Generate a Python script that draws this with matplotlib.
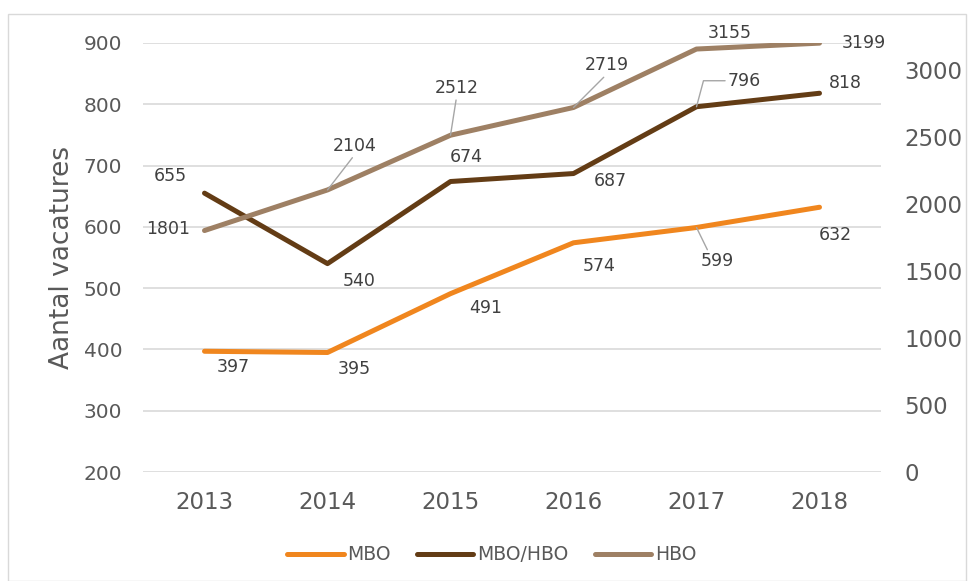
import matplotlib
matplotlib.use("Agg")
import matplotlib.pyplot as plt

years = ["2013", "2014", "2015", "2016", "2017", "2018"]
mbo = [397, 395, 491, 574, 599, 632]
mbo_hbo = [655, 540, 674, 687, 796, 818]
hbo = [1801, 2104, 2512, 2719, 3155, 3199]

# label offsets in pixels (dx, dy) and leader line style (None = no line)
mbo_off = [(29, -16, None), (27, -17, None), (35, -14, None), (26, -23, None), (21, -34, "arc3"), (16, -28, None)]
mbo_hbo_off = [(-34, 17, None), (32, -17, None), (16, 25, None), (37, -7, None), (48, 26, "angle"), (26, 10, None)]
hbo_off = [(-36, 2, None), (27, 44, "arc3"), (6, 47, "arc3"), (33, 42, "arc3"), (33, 16, None), (44, 0, None)]

c_mbo = "#F0861E"
c_mbo_hbo = "#633C15"
c_hbo = "#9E8064"
tick_c = "#595959"
lab_c = "#404040"

fig = plt.figure(figsize=(9.68, 5.81), dpi=100)
ax = fig.add_axes([143 / 968, 1 - 472 / 581, (881 - 143) / 968, (472 - 43) / 581])
ax2 = ax.twinx()

x = list(range(len(years)))
l1, = ax.plot(x, mbo, color=c_mbo, lw=3.6, solid_capstyle="round", solid_joinstyle="round", label="MBO", zorder=3)
l2, = ax.plot(x, mbo_hbo, color=c_mbo_hbo, lw=3.6, solid_capstyle="round", solid_joinstyle="round", label="MBO/HBO", zorder=3)
l3, = ax2.plot(x, hbo, color=c_hbo, lw=3.6, solid_capstyle="round", solid_joinstyle="round", label="HBO", zorder=3)

ax.set_xlim(-0.5, 5.5)
ax.set_ylim(200, 900)
ax2.set_ylim(0, 3200)
ax.set_yticks(range(200, 901, 100))
ax2.set_yticks(range(0, 3001, 500))
ax.set_xticks(x)
ax.set_xticklabels(years)

for a in (ax, ax2):
    for s in a.spines.values():
        s.set_visible(False)
    a.tick_params(length=0, colors=tick_c)
ax.tick_params(axis="y", pad=15, labelsize=14.5)
ax2.tick_params(axis="y", pad=17, labelsize=16.5)
ax.tick_params(axis="x", pad=14, labelsize=16.5)
ax.grid(axis="y", color="#D9D9D9", lw=1.2)
ax.set_axisbelow(True)

ax.set_ylabel("Aantal vacatures", fontsize=19, color=tick_c, labelpad=6)


def put_labels(a, vals, offs):
    for i, (v, (dx, dy, lead)) in enumerate(zip(vals, offs)):
        props = None
        if lead == "arc3":
            props = dict(arrowstyle="-", color="#A6A6A6", lw=1, shrinkA=0, shrinkB=0,
                         relpos=(0.5, 0))
        elif lead == "angle":
            props = dict(arrowstyle="-", color="#A6A6A6", lw=1, shrinkA=0, shrinkB=0,
                         relpos=(0, 0.5), connectionstyle="angle,angleA=180,angleB=75,rad=0")
        a.annotate(str(v), (i, v), xytext=(dx, dy), textcoords="offset pixels",
                   ha="center", va="center", fontsize=12.5, color=lab_c,
                   arrowprops=props, zorder=5)


put_labels(ax, mbo, mbo_off)
put_labels(ax, mbo_hbo, mbo_hbo_off)
put_labels(ax2, hbo, hbo_off)

fig.legend(handles=[l1, l2, l3], loc="center", bbox_to_anchor=(0.508, 1 - 555 / 581),
           ncol=3, frameon=False, fontsize=13.5, handlelength=3.0, handletextpad=0.2,
           columnspacing=1.4, labelcolor=tick_c)

fig.patches.append(plt.Rectangle((8 / 968, 0), 958 / 968, 1 - 14 / 581, transform=fig.transFigure,
                                 fill=False, edgecolor="#D9D9D9", lw=1))

fig.savefig("out.png", dpi=100)
